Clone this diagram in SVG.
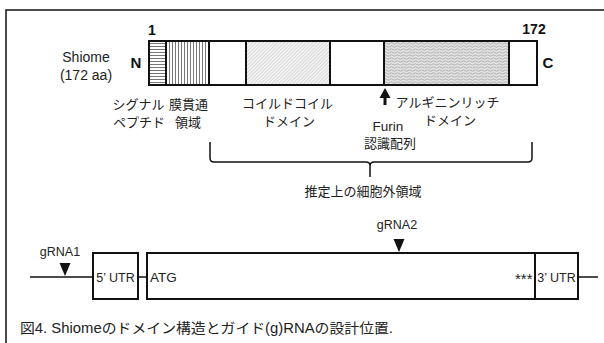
<svg xmlns="http://www.w3.org/2000/svg" width="604" height="343" viewBox="0 0 604 343">
<defs>
<style>
text{font-family:"Liberation Sans","Noto Sans CJK JP",sans-serif;fill:#222;}
.t{font-size:13px;text-anchor:middle;}
.j{font-size:13px;}
.b{font-weight:bold;font-size:15px;text-anchor:middle;fill:#111;}
.seg{stroke:#111;stroke-width:2;}
.ln{stroke:#111;stroke-width:1.5;fill:none;}
.box{stroke:#111;stroke-width:2;fill:#fff;}
.g{font-size:12.5px;}
</style>
<pattern id="hz" width="4" height="3" patternUnits="userSpaceOnUse"><rect width="4" height="3" fill="#fff"/><line x1="0" y1="1.5" x2="4" y2="1.5" stroke="#777" stroke-width="1"/></pattern>
<pattern id="vt" width="3" height="4" patternUnits="userSpaceOnUse"><rect width="3" height="4" fill="#fff"/><line x1="1.5" y1="0" x2="1.5" y2="4" stroke="#777" stroke-width="1"/></pattern>
<pattern id="dg" width="2.5" height="2.5" patternUnits="userSpaceOnUse" patternTransform="rotate(-45)"><rect width="2.5" height="2.5" fill="#f4f4f4"/><line x1="0" y1="1.25" x2="2.5" y2="1.25" stroke="#c8c8c8" stroke-width="0.6"/></pattern>
<pattern id="wv" width="6" height="3" patternUnits="userSpaceOnUse"><rect width="6" height="3" fill="#e2e2e2"/><path d="M0 1.5 Q1.5 0 3 1.5 T6 1.5" stroke="#999" stroke-width="0.7" fill="none"/></pattern>
</defs>
<rect width="604" height="343" fill="#fff"/>
<path d="M6 343 V10 H604" stroke="#111" stroke-width="1.5" fill="none"/>

<g id="protein">
<text x="86" y="62" class="t" style="font-size:14px">Shiome</text>
<text x="86" y="80" class="t" style="font-size:14px">(172 aa)</text>
<text x="136" y="68" class="b">N</text>
<text x="548" y="68" class="b">C</text>
<text x="152" y="35" class="b" style="font-size:14px">1</text>
<text x="534" y="34" class="b" style="font-size:14px">172</text>
<rect x="149" y="41" width="17" height="44" fill="url(#hz)" class="seg"/>
<rect x="166" y="41" width="43" height="44" fill="url(#vt)" class="seg"/>
<rect x="209" y="41" width="37" height="44" fill="#fff" class="seg"/>
<rect x="246" y="41" width="84" height="44" fill="url(#dg)" class="seg"/>
<rect x="330" y="41" width="54" height="44" fill="#fff" class="seg"/>
<rect x="384" y="41" width="125" height="44" fill="url(#wv)" class="seg"/>
<rect x="509" y="41" width="28" height="44" fill="#fff" class="seg"/>
</g>

<g id="labels">
<text x="138.5" y="109" class="t j">シグナル</text>
<text x="188.5" y="109" class="t j">膜貫通</text>
<text x="139" y="127" class="t j">ペプチド</text>
<text x="188" y="127" class="t j">領域</text>
<text x="287.5" y="108" class="t j">コイルドコイル</text>
<text x="289" y="126" class="t j">ドメイン</text>
<text x="447.5" y="107" class="t j">アルギニンリッチ</text>
<text x="450" y="125" class="t j">ドメイン</text>
<text x="388" y="131" class="t" style="font-size:13.5px">Furin</text>
<text x="390" y="148" class="t j">認識配列</text>
<text x="363" y="196" class="t j">推定上の細胞外領域</text>
</g>

<g id="connectors">
<line x1="385" y1="96" x2="385" y2="105" stroke="#111" stroke-width="3"/>
<polygon points="385,88 379.5,98 390.5,98" fill="#111"/>
<path d="M210 142 V158 Q210 162 214 162 H366 Q370 162 370 166 V177 M370 166 Q370 162 374 162 H528 Q532 162 532 158 V142" class="ln"/>
</g>

<g id="gene">
<line x1="30" y1="277" x2="93" y2="277" class="ln"/>
<line x1="138" y1="277" x2="147" y2="277" class="ln"/>
<line x1="578" y1="277" x2="598" y2="277" class="ln"/>
<rect x="93" y="253" width="45" height="46" class="box"/>
<rect x="147" y="253" width="388" height="46" class="box"/>
<rect x="535" y="253" width="43" height="46" class="box"/>
<text x="115.5" y="281.5" class="t g">5’ UTR</text>
<text x="150" y="281.5" class="g" style="font-size:13.5px">ATG</text>
<text x="532.5" y="284" class="g" text-anchor="end" style="font-size:15px">***</text>
<text x="556.5" y="281.5" class="t g">3’ UTR</text>
</g>

<g id="gRNA1">
<text x="60" y="256" class="t g">gRNA1</text>
<polygon points="59.5,263 70.5,263 65,276" fill="#111"/>
</g>
<g id="gRNA2">
<text x="397" y="229" class="t g">gRNA2</text>
<polygon points="393.5,239 404.5,239 399,252" fill="#111"/>
</g>

<text x="20" y="333" style="font-size:14px" textLength="373" lengthAdjust="spacingAndGlyphs">図4. Shiomeのドメイン構造とガイド(g)RNAの設計位置.</text>
</svg>
